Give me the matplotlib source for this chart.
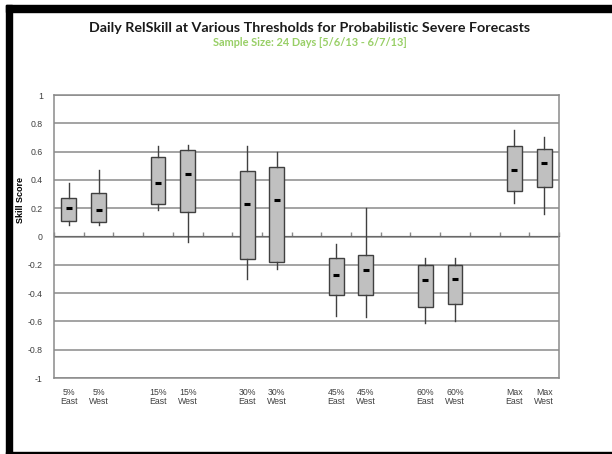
import matplotlib
matplotlib.use("Agg")
import matplotlib.pyplot as plt
from matplotlib.patches import Rectangle

plt.rcParams['font.family'] = ['Liberation Sans', 'DejaVu Sans']

# categories (empty slots are the gaps between threshold groups)
labels = ['5%\nEast', '5%\nWest', '',
          '15%\nEast', '15%\nWest', '',
          '30%\nEast', '30%\nWest', '',
          '45%\nEast', '45%\nWest', '',
          '60%\nEast', '60%\nWest', '',
          'Max\nEast', 'Max\nWest']
box_pos = [0, 1, 3, 4, 6, 7, 9, 10, 12, 13, 15, 16]

# box statistics
whis_hi = [0.38, 0.47, 0.64, 0.65, 0.64, 0.60, -0.05, 0.20, -0.15, -0.15, 0.75, 0.70]
q3 = [0.27, 0.31, 0.56, 0.61, 0.46, 0.49, -0.15, -0.13, -0.20, -0.20, 0.64, 0.62]
median = [0.20, 0.19, 0.38, 0.44, 0.23, 0.26, -0.27, -0.24, -0.31, -0.30, 0.47, 0.52]
q1 = [0.11, 0.10, 0.23, 0.17, -0.16, -0.18, -0.41, -0.41, -0.50, -0.48, 0.32, 0.35]
whis_lo = [0.08, 0.08, 0.19, -0.04, -0.30, -0.23, -0.56, -0.57, -0.61, -0.60, 0.24, 0.16]

yticks = [1, 0.8, 0.6, 0.4, 0.2, 0, -0.2, -0.4, -0.6, -0.8, -1]

fig = plt.figure(figsize=(6.12, 4.54), dpi=100)
W, H = 612.0, 454.0

# black frame around the picture
fig.patches.append(Rectangle((6 / W, 0), 6 / W, 1 - 5 / H, transform=fig.transFigure, color='black'))
fig.patches.append(Rectangle((6 / W, 1 - 12 / H), 1, 7 / H, transform=fig.transFigure, color='black'))
fig.patches.append(Rectangle((6 / W, 0), 1, 2.5 / H, transform=fig.transFigure, color='black'))

ax = fig.add_axes([54 / W, 1 - 378 / H, 505 / W, 283 / H])

stats = []
for i in range(len(box_pos)):
    stats.append({'whislo': whis_lo[i], 'q1': q1[i], 'med': median[i],
                  'q3': q3[i], 'whishi': whis_hi[i]})

ax.bxp(stats, positions=box_pos, widths=0.5, showcaps=False, showfliers=False,
       patch_artist=True,
       boxprops=dict(facecolor='#c0c0c0', edgecolor='#404040', linewidth=1),
       whiskerprops=dict(color='#404040', linewidth=1),
       medianprops=dict(linewidth=0), zorder=3)
ax.plot(box_pos, median, ls='none', marker='_', ms=5, mew=2.2, color='black', zorder=4)

ax.set_xlim(-0.5, len(labels) - 0.5)
ax.set_ylim(-1, 1)
ax.set_yticks(yticks)
ax.set_yticklabels(['%g' % v for v in yticks])
ax.yaxis.grid(True, color='#8a8a8a', linewidth=1.1)
ax.set_axisbelow(True)
ax.tick_params(axis='y', length=0, pad=8, labelsize=6.3, labelcolor='#404040')

ax.set_xticks(range(len(labels)))
ax.set_xticklabels(labels, linespacing=1.0)
ax.tick_params(axis='x', length=0, pad=7, labelsize=6.3, labelcolor='#404040')

for s in ax.spines.values():
    s.set_color('#8a8a8a')
    s.set_linewidth(1.1)

# category axis crossing at zero, with tick marks between categories
sec = ax.secondary_xaxis(0.5)
sec.set_xticks([k - 0.5 for k in range(len(labels) + 1)])
sec.set_xticklabels([])
sec.tick_params(direction='out', length=3, width=1, color='#8a8a8a')
sec.spines['bottom'].set_visible(False)

ax.set_ylabel('Skill Score', fontsize=6.5, fontweight='bold')
ax.yaxis.set_label_coords(-0.058, 0.63)

fig.text(310 / W, 1 - 28 / H, 'Daily RelSkill at Various Thresholds for Probabilistic Severe Forecasts',
         ha='center', va='center', fontsize=10.3, fontweight='bold', family='Lato', color='#1a1a1a')
fig.text(310 / W, 1 - 43 / H, 'Sample Size: 24 Days [5/6/13 - 6/7/13]',
         ha='center', va='center', fontsize=7.9, fontweight='bold', family='Lato', color='#98cf66')

fig.savefig('out.png', dpi=100)
